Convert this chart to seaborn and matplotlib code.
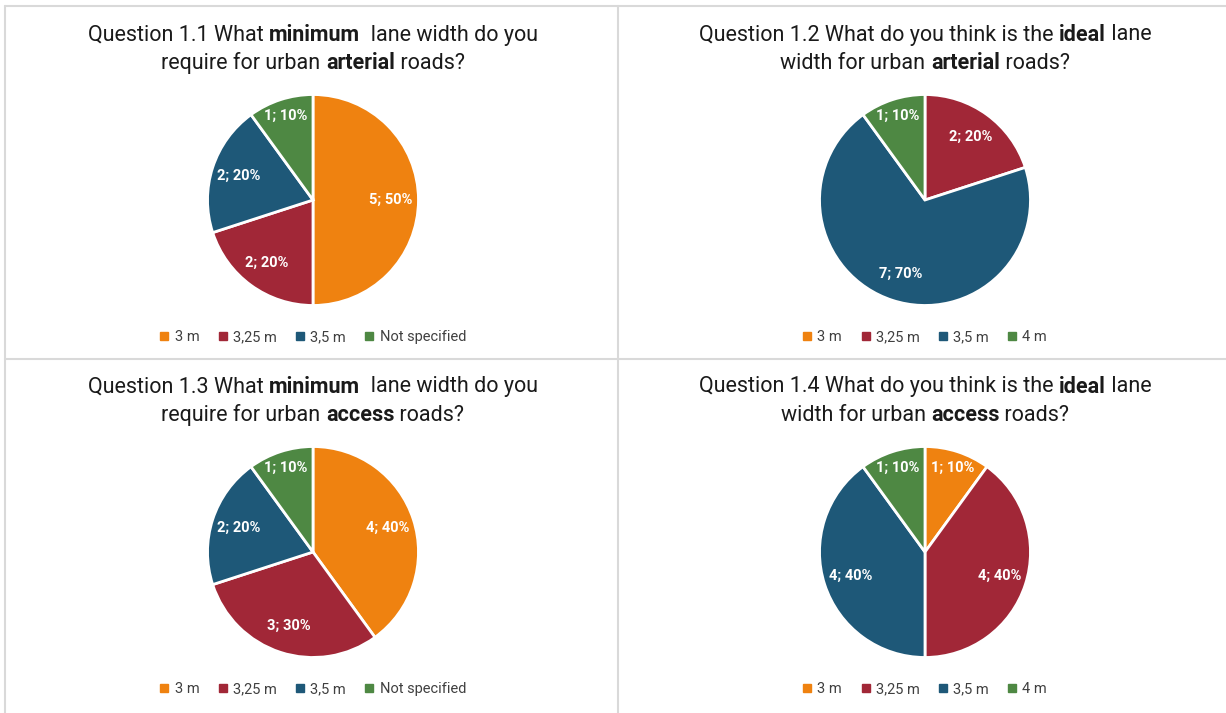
import matplotlib
matplotlib.use("Agg")
import matplotlib.pyplot as plt
from matplotlib.lines import Line2D
import seaborn as sns

# ---------------- data ----------------
labels_a = ["3 m", "3,25 m", "3,5 m", "Not specified"]
labels_b = ["3 m", "3,25 m", "3,5 m", "4 m"]
q11 = [5, 2, 2, 1]
q12 = [0, 2, 7, 1]
q13 = [4, 3, 2, 1]
q14 = [1, 4, 4, 1]

title11 = [[("Question 1.1 What ", "normal"), ("minimum", "bold"), ("  lane width do you", "normal")],
           [("require for urban ", "normal"), ("arterial", "bold"), (" roads?", "normal")]]
title12 = [[("Question 1.2 What do you think is the ", "normal"), ("ideal", "bold"), (" lane", "normal")],
           [("width for urban ", "normal"), ("arterial", "bold"), (" roads?", "normal")]]
title13 = [[("Question 1.3 What ", "normal"), ("minimum", "bold"), ("  lane width do you", "normal")],
           [("require for urban ", "normal"), ("access", "bold"), (" roads?", "normal")]]
title14 = [[("Question 1.4 What do you think is the ", "normal"), ("ideal", "bold"), (" lane", "normal")],
           [("width for urban ", "normal"), ("access", "bold"), (" roads?", "normal")]]

# ---------------- style ----------------
sns.set_theme(style="white")
colors = sns.color_palette(["#EF8210", "#A12737", "#1E5878", "#4E8843"])
FONT = ["Roboto", "DejaVu Sans"]
plt.rcParams["font.family"] = FONT

W, H = 1226, 713
fig = plt.figure(figsize=(W / 100, H / 100), dpi=100)
fig.patch.set_facecolor("white")
renderer = fig.canvas.get_renderer()


def text_width(s, weight, size):
    t1 = fig.text(0, 0, s + "|", fontsize=size, fontweight=weight)
    t2 = fig.text(0, 0, "|", fontsize=size, fontweight=weight)
    w = t1.get_window_extent(renderer=renderer).width - t2.get_window_extent(renderer=renderer).width
    t1.remove(); t2.remove()
    return w


def rich_line(xc, y, parts, size=15.5):
    widths = [text_width(s, w, size) for s, w in parts]
    x = xc * W - sum(widths) / 2
    for (s, w), wd in zip(parts, widths):
        fig.text(x / W, y, s, fontsize=size, fontweight=w, va="center", ha="left", color="#1a1a1a")
        x += wd


def panel(xc, yc, values, labels, title, title_y, legend_y):
    R = 106
    ax = fig.add_axes([xc - R / W, yc - R / H, 2 * R / W, 2 * R / H])
    total = sum(values)

    def fmt(p):
        n = int(round(p * total / 100))
        return "" if n == 0 else f"{n}; {p:.0f}%"

    wedges, _, autotexts = ax.pie(values, colors=colors, startangle=90, counterclock=False,
                                  autopct=fmt, pctdistance=0.74, radius=1,
                                  wedgeprops=dict(edgecolor="white", linewidth=2),
                                  textprops=dict(color="white", fontsize=10.5, fontweight="bold"))
    # narrow wedges: push label further out (like Excel "best fit")
    for v, t in zip(values, autotexts):
        if 0 < v / total <= 0.1:
            x, y = t.get_position()
            t.set_position((x * 0.84 / 0.74, y * 0.84 / 0.74))
    ax.set_xlim(-1.005, 1.005)
    ax.set_ylim(-1.005, 1.005)
    ax.set_aspect("equal")
    ax.axis("off")
    for i, line in enumerate(title):
        rich_line(xc, title_y - i * 0.0393, line)
    handles = [Line2D([], [], marker="s", linestyle="none", markersize=6,
                      markerfacecolor=c, markeredgecolor=c) for c in colors]
    fig.legend(handles, labels, loc="center", bbox_to_anchor=(xc, legend_y), ncol=4,
               frameon=False, fontsize=10.5, handlelength=0.6, handletextpad=0.4,
               columnspacing=1.3, labelcolor="#404040")


panel(313 / W, 1 - 200 / H, q11, labels_a, title11, 1 - 35 / H, 1 - 337 / H)
panel(925 / W, 1 - 200 / H, q12, labels_b, title12, 1 - 35 / H, 1 - 337 / H)
panel(313 / W, 1 - 552 / H, q13, labels_a, title13, 1 - 387 / H, 1 - 689 / H)
panel(925 / W, 1 - 552 / H, q14, labels_b, title14, 1 - 387 / H, 1 - 689 / H)

# panel separator lines
gc = "#D9D9D9"
fig.add_artist(Line2D([5 / W, 1], [1 - 6 / H, 1 - 6 / H], color=gc, lw=1.5))
fig.add_artist(Line2D([5 / W, 5 / W], [0, 1 - 6 / H], color=gc, lw=1.5))
fig.add_artist(Line2D([618 / W, 618 / W], [0, 1 - 6 / H], color=gc, lw=1.5))
fig.add_artist(Line2D([5 / W, 1], [1 - 359 / H, 1 - 359 / H], color=gc, lw=1.5))

fig.savefig("out.png", dpi=100, facecolor="white")
